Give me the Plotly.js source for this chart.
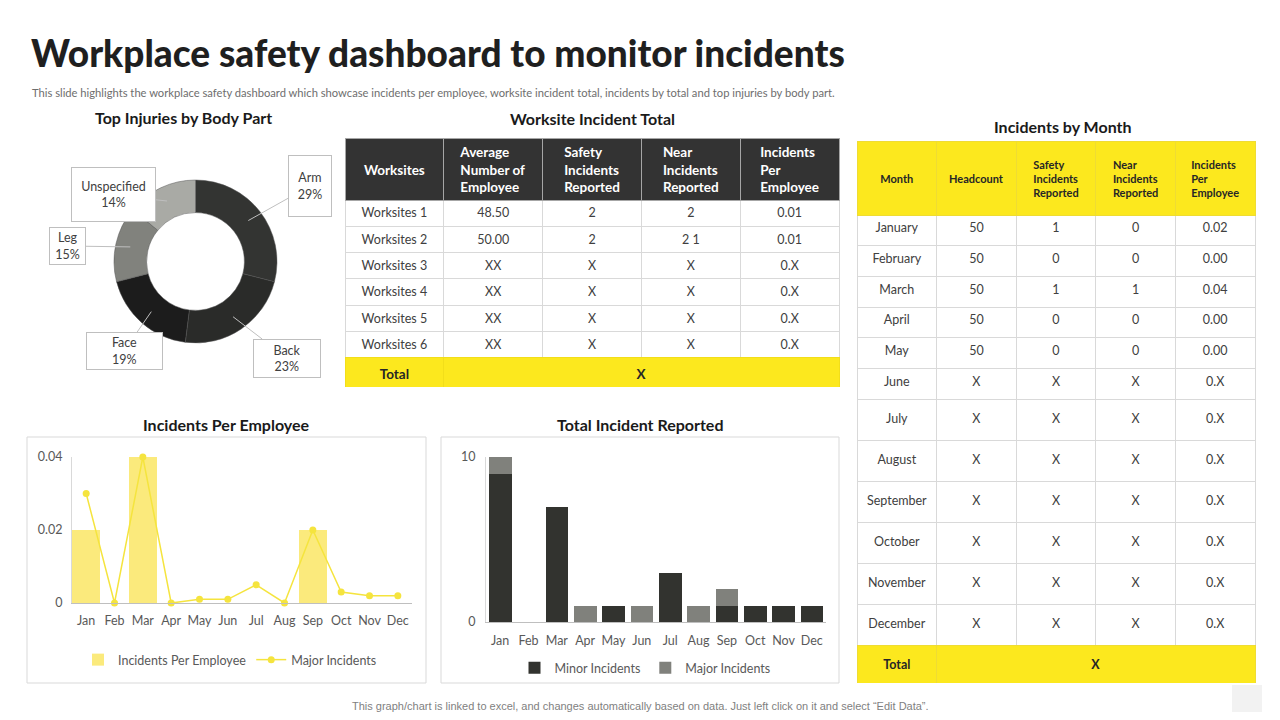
<!DOCTYPE html>
<html>
<head>
<meta charset="utf-8">
<script src="https://cdn.plot.ly/plotly-3.0.1.min.js"></script>
<style>
html,body{margin:0;padding:0;background:#fff;}
#chart{width:1280px;height:720px;}
</style>
</head>
<body>
<div id="chart"></div>
<script>
// ---------------- DATA ----------------
const bodyParts = ['Arm', 'Back', 'Face', 'Leg', 'Unspecified'];
const bodyPartPct = [29, 23, 19, 15, 14];

const months = ['Jan','Feb','Mar','Apr','May','Jun','Jul','Aug','Sep','Oct','Nov','Dec'];
const incidentsPerEmployee = [0.02, 0, 0.04, 0, 0, 0, 0, 0, 0.02, 0, 0, 0];
const majorIncidentsRate = [0.03, 0, 0.04, 0, 0.001, 0.001, 0.005, 0, 0.02, 0.003, 0.002, 0.002];

const minorIncidents = [9, 0, 7, 0, 1, 0, 3, 0, 1, 1, 1, 1];
const majorIncidents = [1, 0, 0, 1, 0, 1, 0, 1, 1, 0, 0, 0];

const worksiteHeaders = ['Worksites', 'Average<br>Number of<br>Employee', 'Safety<br>Incidents<br>Reported', 'Near<br>Incidents<br>Reported', 'Incidents<br>Per<br>Employee'];
const worksiteNames = ['Worksites 1','Worksites 2','Worksites 3','Worksites 4','Worksites 5','Worksites 6'];
const worksiteAvgEmp = ['48.50','50.00','XX','XX','XX','XX'];
const worksiteSafety = ['2','2','X','X','X','X'];
const worksiteNear = ['2','2 1','X','X','X','X'];
const worksitePerEmp = ['0.01','0.01','0.X','0.X','0.X','0.X'];
const worksiteTotal = ['Total', 'X'];

const monthHeaders = ['Month', 'Headcount', 'Safety<br>Incidents<br>Reported', 'Near<br>Incidents<br>Reported', 'Incidents<br>Per<br>Employee'];
const monthNames = ['January','February','March','April','May','June','July','August','September','October','November','December'];
const monthHeadcount = ['50','50','50','50','50','X','X','X','X','X','X','X'];
const monthSafety = ['1','0','1','0','0','X','X','X','X','X','X','X'];
const monthNear = ['0','0','1','0','0','X','X','X','X','X','X','X'];
const monthPerEmp = ['0.02','0.00','0.04','0.00','0.00','0.X','0.X','0.X','0.X','0.X','0.X','0.X'];
const monthTotal = ['Total', 'X'];

// ---------------- HELPERS ----------------
const W = 1280, H = 720;
const px = x => x / W;
const py = y => (H - y) / H;
const YEL = '#fce81e';
const DARK = '#333333';
const TXT = '#404040';
const CLEAR = 'rgba(0,0,0,0)';
const BODY = 'Lato, "Open Sans", sans-serif';
const HEAD = 'Lato, "Noto Sans", sans-serif';
const blank = arr => arr.map(() => '');
const bold = (h, centreSingle) => '<b>' + ((centreSingle && h.indexOf('<br>') < 0) ? '\u00a0<br>' + h : h) + '</b>';

const traces = [];

// Donut
const donutColors = ['#333432', '#2a2b29', '#1c1c1c', '#81827d', '#a9aaa5'];
const cx = 195.5, cy = 261.5, R = 81.5;
traces.push({
  type: 'pie', labels: bodyParts, values: bodyPartPct, hole: 0.6,
  sort: false, direction: 'clockwise', rotation: 0,
  marker: {colors: donutColors, line: {color: '#555', width: 0.5}},
  textinfo: 'none', hoverinfo: 'skip', showlegend: false,
  domain: {x: [px(cx - R), px(cx + R)], y: [py(cy + R), py(cy - R)]}
});

// Incidents per employee
traces.push({
  type: 'bar', x: months, y: incidentsPerEmployee, name: 'Incidents Per Employee', width: 0.97,
  marker: {color: '#fbea7c'}, xaxis: 'x', yaxis: 'y', legend: 'legend', hoverinfo: 'skip'
});
traces.push({
  type: 'scatter', mode: 'lines+markers', x: months, y: majorIncidentsRate, name: 'Major Incidents',
  line: {color: '#f5e43e', width: 1.5}, marker: {color: '#f5e43e', size: 7},
  xaxis: 'x', yaxis: 'y', legend: 'legend', cliponaxis: false, hoverinfo: 'skip'
});

// Total incident reported
traces.push({
  type: 'bar', x: months, y: minorIncidents, name: 'Minor Incidents', width: 0.8,
  marker: {color: '#32332f'}, xaxis: 'x2', yaxis: 'y2', legend: 'legend2', hoverinfo: 'skip'
});
traces.push({
  type: 'bar', x: months, y: majorIncidents, name: 'Major Incidents', width: 0.8,
  marker: {color: '#80817c'}, xaxis: 'x2', yaxis: 'y2', legend: 'legend2', hoverinfo: 'skip'
});

// ---------- Worksite table ----------
const wsL = 345, wsR = 839, wsTop = 138, wsHead = 62, wsRow = 26.33, wsTotTop = wsTop + wsHead + 6 * wsRow;
traces.push({
  type: 'table',
  domain: {x: [px(wsL), px(wsR)], y: [py(wsTotTop + 2), py(wsTop)]},
  columnwidth: [1, 1, 1, 1, 1],
  header: {
    values: blank(worksiteHeaders), fill: {color: DARK}, line: {color: '#a6a6a6', width: 1}, height: wsHead
  },
  cells: {
    values: [worksiteNames, worksiteAvgEmp, worksiteSafety, worksiteNear, worksitePerEmp],
    fill: {color: '#ffffff'}, line: {color: '#d9d9d9', width: 1},
    font: {family: BODY, size: 12.5, color: TXT}, align: 'center', height: wsRow
  }
});
// header text overlay
traces.push({
  type: 'table',
  domain: {x: [px(wsL), px(wsR)], y: [py(wsTop - 2 + 80), py(wsTop - 2)]},
  columnwidth: [1, 1, 1, 1, 1],
  header: {
    values: worksiteHeaders.map(h => bold(h, true)), fill: {color: CLEAR}, line: {color: CLEAR, width: 0},
    font: {family: HEAD, size: 13.5, color: '#ffffff'}, align: 'center', height: wsHead
  },
  cells: {values: [[], [], [], [], []]}
});
traces.push({
  type: 'table',
  domain: {x: [px(wsL), px(wsR)], y: [py(387), py(wsTotTop)]},
  columnwidth: [1, 4],
  header: {
    values: worksiteTotal.map(v => '<b>' + v + '</b>'),
    fill: {color: YEL}, line: {color: '#f2de1a', width: 1},
    font: {family: HEAD, size: 13.5, color: '#262626'}, align: 'center', height: 387 - wsTotTop
  },
  cells: {values: [[], []]}
});

// ---------- Month table ----------
const mL = 857, mR = 1256, mTop = 141, mHead = 74, mRowA = 30.67, mRowB = 41;
const mBTop = mTop + mHead + 6 * mRowA;          // 399
const mTotTop = mBTop + 6 * mRowB;               // 645
const mCols = [monthNames, monthHeadcount, monthSafety, monthNear, monthPerEmp];
const colsA = mCols.map(c => c.slice(0, 6));
const colsB = mCols.map(c => c.slice(6));
// grid A: header + Jan-Jun
traces.push({
  type: 'table',
  domain: {x: [px(mL), px(mR)], y: [py(mBTop + 2), py(mTop)]},
  columnwidth: [1, 1, 1, 1, 1],
  header: {values: blank(monthHeaders), fill: {color: YEL}, line: {color: '#efdc33', width: 1}, height: mHead},
  cells: {
    values: colsA, fill: {color: '#ffffff'}, line: {color: '#d9d9d9', width: 1},
    font: {family: BODY, size: 12.5, color: TXT}, align: 'center', height: mRowA
  }
});
// header text overlay
traces.push({
  type: 'table',
  domain: {x: [px(mL), px(mR)], y: [py(mTop + 8.5 + 80), py(mTop + 8.5)]},
  columnwidth: [1, 1, 1, 1, 1],
  header: {
    values: monthHeaders.map(h => bold(h, true)), fill: {color: CLEAR}, line: {color: CLEAR, width: 0},
    font: {family: HEAD, size: 11, color: '#262626'}, align: 'center', height: mHead
  },
  cells: {values: [[], [], [], [], []]}
});
// grid B: Jul-Dec (first row carried by header slot)
traces.push({
  type: 'table',
  domain: {x: [px(mL), px(mR)], y: [py(mTotTop + 2), py(mBTop)]},
  columnwidth: [1, 1, 1, 1, 1],
  header: {values: blank(colsB), fill: {color: '#ffffff'}, line: {color: '#d9d9d9', width: 1}, height: mRowB},
  cells: {
    values: colsB.map(c => blank(c.slice(1))), fill: {color: '#ffffff'}, line: {color: '#d9d9d9', width: 1},
    height: mRowB
  }
});
// text B overlay
traces.push({
  type: 'table',
  domain: {x: [px(mL), px(mR)], y: [py(mTotTop + 12), py(mBTop + 7)]},
  columnwidth: [1, 1, 1, 1, 1],
  header: {
    values: colsB.map(c => c[0]), fill: {color: CLEAR}, line: {color: CLEAR, width: 0},
    font: {family: BODY, size: 12.5, color: TXT}, align: 'center', height: mRowB
  },
  cells: {
    values: colsB.map(c => c.slice(1)), fill: {color: CLEAR}, line: {color: CLEAR, width: 0},
    font: {family: BODY, size: 12.5, color: TXT}, align: 'center', height: mRowB
  }
});
// total row
traces.push({
  type: 'table',
  domain: {x: [px(mL), px(mR)], y: [py(684), py(mTotTop)]},
  columnwidth: [1, 4],
  header: {values: blank(monthTotal), fill: {color: YEL}, line: {color: '#efdc33', width: 1}, height: 684 - mTotTop},
  cells: {values: [[], []]}
});
traces.push({
  type: 'table',
  domain: {x: [px(mL), px(mR)], y: [py(684), py(mTotTop + 4)]},
  columnwidth: [1, 4],
  header: {
    values: monthTotal.map(v => '<b>' + v + '</b>'), fill: {color: CLEAR}, line: {color: CLEAR, width: 0},
    font: {family: HEAD, size: 12.5, color: '#262626'}, align: 'center', height: 30
  },
  cells: {values: [[], []]}
});

// ---------------- ANNOTATIONS ----------------
const annotations = [];
const secTitle = (text, x, y) => annotations.push({
  text: '<b>' + text + '</b>', x: px(x), y: py(y), xref: 'paper', yref: 'paper',
  xanchor: 'center', yanchor: 'middle', showarrow: false,
  font: {family: HEAD, size: 16, weight: 900, color: '#1a1a1a'}
});
annotations.push({
  text: 'Workplace safety dashboard to monitor incidents', x: px(29), y: py(53),
  xref: 'paper', yref: 'paper', xanchor: 'left', yanchor: 'middle', showarrow: false,
  font: {family: HEAD, size: 37, weight: 900, color: '#1f1f1f'}
});
annotations.push({
  text: 'This slide highlights the workplace safety dashboard which showcase incidents per employee, worksite incident total, incidents by total and top injuries by body part.',
  x: px(30), y: py(93), xref: 'paper', yref: 'paper', xanchor: 'left', yanchor: 'middle', showarrow: false,
  font: {family: BODY, size: 11.2, color: '#6e6e6e'}
});
secTitle('Top Injuries by Body Part', 183, 118);
secTitle('Worksite Incident Total', 592, 119);
secTitle('Incidents by Month', 1063, 126);
secTitle('Incidents Per Employee', 226, 424);
secTitle('Total Incident Reported', 640, 424);
annotations.push({
  text: 'This graph/chart is linked to excel, and changes automatically based on data. Just left click on it and select \u201CEdit Data\u201D.',
  x: px(640), y: py(706), xref: 'paper', yref: 'paper', xanchor: 'center', yanchor: 'middle', showarrow: false,
  font: {family: '"Liberation Sans", Arial, sans-serif', size: 11, color: '#7f7f7f'}
});

// donut callouts (box centre positions in px)
const boxCentres = [[310, 186], [287, 358], [124, 351], [67, 246], [113, 195]];
const boxSizes = [[44, 62], [68, 39], [77, 38], [37, 38], [85, 55]];
const total = bodyPartPct.reduce((a, b) => a + b, 0);
let acc = 0;
bodyParts.forEach((name, i) => {
  const mid = (acc + bodyPartPct[i] / 2) / total * 2 * Math.PI;
  acc += bodyPartPct[i];
  const r = R * 0.82;
  const tx = cx + r * Math.sin(mid), ty = cy - r * Math.cos(mid);
  const [bx, by] = boxCentres[i];
  const [bw, bh] = boxSizes[i];
  annotations.push({
    text: name + '<br>' + bodyPartPct[i] + '%', x: px(tx), y: py(ty), xref: 'paper', yref: 'paper',
    ax: bx - tx, ay: by - ty, showarrow: true, arrowhead: 0, arrowwidth: 1, arrowcolor: '#bfbfbf',
    bordercolor: '#bfbfbf', borderwidth: 1, borderpad: 0, bgcolor: '#ffffff',
    width: bw - 2, height: bh - 2,
    font: {family: BODY, size: 12.5, color: TXT}
  });
});

// ---------------- SHAPES ----------------
const shapes = [
  {type: 'rect', xref: 'paper', yref: 'paper', x0: px(27), x1: px(426), y0: py(683), y1: py(437),
   line: {color: '#d9d9d9', width: 1}, fillcolor: CLEAR, layer: 'below'},
  {type: 'rect', xref: 'paper', yref: 'paper', x0: px(441), x1: px(839), y0: py(683), y1: py(437),
   line: {color: '#d9d9d9', width: 1}, fillcolor: CLEAR, layer: 'below'},
  {type: 'rect', xref: 'paper', yref: 'paper', x0: px(1232), x1: px(1262), y0: py(712), y1: py(685),
   line: {width: 0}, fillcolor: '#f2f2f2', layer: 'below'}
];

const axisFont = {family: BODY, size: 12.5, color: '#595959'};
const layout = {
  width: W, height: H, margin: {l: 0, r: 0, t: 0, b: 0},
  paper_bgcolor: '#ffffff', plot_bgcolor: CLEAR,
  font: {family: BODY, color: TXT},
  barmode: 'stack',
  xaxis: {domain: [px(72), px(412)], type: 'category', range: [-0.5, 11.5], tickfont: axisFont, showline: true,
          linecolor: '#bfbfbf', linewidth: 1, ticks: '', showgrid: false, zeroline: false,
          ticklabelstandoff: 6, fixedrange: true},
  yaxis: {domain: [py(603), py(457)], range: [0, 0.04], tickvals: [0, 0.02, 0.04], ticktext: ['0', '0.02', '0.04'],
          tickfont: axisFont, showline: true, linecolor: '#d9d9d9', showgrid: false, zeroline: false,
          ticks: '', ticklabelstandoff: 6, fixedrange: true},
  xaxis2: {domain: [px(486), px(826)], type: 'category', range: [-0.5, 11.5], tickfont: axisFont, showline: true, anchor: 'y2',
           linecolor: '#bfbfbf', linewidth: 1, ticks: '', showgrid: false, zeroline: false,
           ticklabelstandoff: 7, fixedrange: true},
  yaxis2: {domain: [py(622), py(457)], range: [0, 10], tickvals: [0, 10], anchor: 'x2',
           tickfont: axisFont, showline: true, linecolor: '#d9d9d9', showgrid: false, zeroline: false,
           ticks: '', ticklabelstandoff: 7, fixedrange: true},
  legend: {orientation: 'h', traceorder: 'normal', x: px(230), y: py(660), xanchor: 'center', yanchor: 'middle',
           font: {family: BODY, size: 12.5, color: '#595959'}, bgcolor: CLEAR, itemwidth: 30},
  legend2: {orientation: 'h', traceorder: 'normal', x: px(645), y: py(668), xanchor: 'center', yanchor: 'middle',
           font: {family: BODY, size: 12.5, color: '#595959'}, bgcolor: CLEAR, itemwidth: 30},
  annotations: annotations,
  shapes: shapes
};

Plotly.newPlot('chart', traces, layout, {staticPlot: true, displayModeBar: false});
</script>
</body>
</html>
